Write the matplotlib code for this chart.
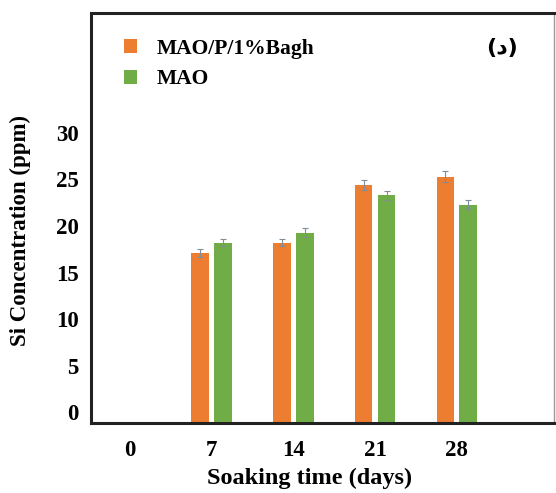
import numpy as np
import matplotlib.pyplot as plt

# data
days = ['0', '7', '14', '21', '28']
bagh = [np.nan, 17.1, 18.2, 24.4, 25.3]
bagh_err = [0, 0.4, 0.4, 0.5, 0.6]
mao = [np.nan, 18.2, 19.3, 23.3, 22.3]
mao_err = [0, 0.4, 0.5, 0.5, 0.5]
labels = ['MAO/P/1%Bagh', 'MAO']

plt.rcParams['font.family'] = ['Liberation Serif', 'DejaVu Sans']
plt.rcParams['font.weight'] = 'bold'

fig = plt.figure(figsize=(5.56, 4.93), dpi=100)
ax = fig.add_axes([0.1637, 0.142, 0.8327, 0.8316])

ybot = -1.18
ax.set_ylim(ybot, 42.9)
ax.set_xlim(-0.477, 5.19)

x = np.arange(len(days))
w = 0.215
off = 0.14
hb = np.array(bagh) - ybot
hm = np.array(mao) - ybot
ekw = dict(ecolor='#7f8c9c', elinewidth=0.8, capsize=2, capthick=0.8)
ax.bar(x - off, hb, w, bottom=ybot, color='#ED7D31', label=labels[0],
       yerr=bagh_err, error_kw=ekw)
ax.bar(x + off, hm, w, bottom=ybot, color='#70AD47', label=labels[1],
       yerr=mao_err, error_kw=ekw)

ax.set_xticks(x)
ax.set_xticklabels(days)
ax.set_yticks([0, 5, 10, 15, 20, 25, 30])
ax.tick_params(axis='both', length=0, labelsize=16.5)
ax.tick_params(axis='x', pad=12)
ax.tick_params(axis='y', pad=9)

for s in ['top', 'bottom', 'left']:
    ax.spines[s].set_linewidth(2.2)
    ax.spines[s].set_color('#222222')
ax.spines['right'].set_linewidth(1.0)
ax.spines['right'].set_color('#999999')

ax.set_xlabel('Soaking time (days)', fontsize=17.5, fontweight='bold')
ax.xaxis.set_label_coords(0.473, -0.11)
ax.set_ylabel('Si Concentration (ppm)', fontsize=16.5, fontweight='bold')
ax.yaxis.set_label_coords(-0.13, 0.47)

ax.legend(loc='upper left', bbox_to_anchor=(0.03, 0.985), frameon=False,
          fontsize=15.5, handlelength=0.6, handleheight=0.6, handletextpad=0.9,
          labelspacing=0.5)

ax.text(0.888, 0.915, '(د)', transform=ax.transAxes, ha='center', va='center',
        fontsize=16, family=['DejaVu Sans'])

fig.savefig('out.png', dpi=100)
